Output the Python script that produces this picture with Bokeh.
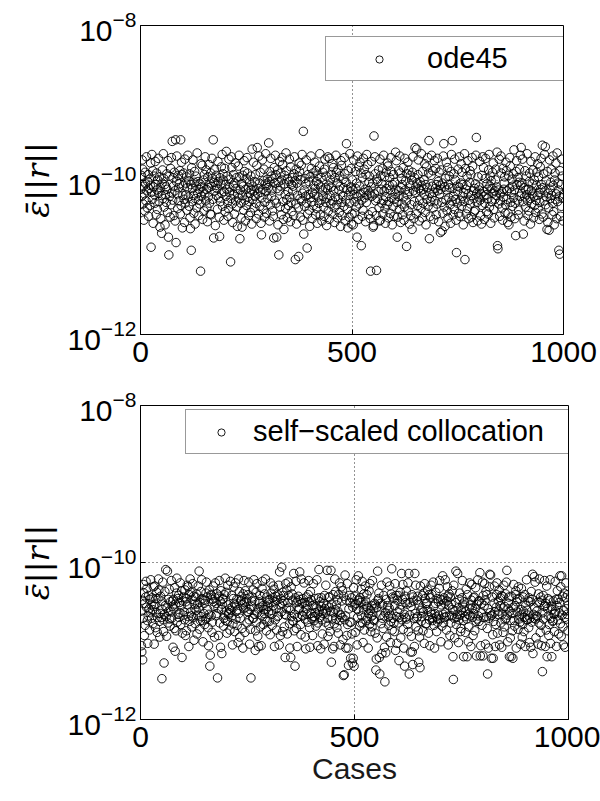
import numpy as np
from bokeh.plotting import figure
from bokeh.models import FixedTicker, Legend, LegendItem, ColumnDataSource, Range1d
from bokeh.layouts import column
from bokeh.embed import file_html
from bokeh.resources import INLINE

# log10 of the mean residual norm for each of the 1000 test cases (ode45)
ode45_log10 = [
    -10.12, -9.94, -10.21, -9.74, -9.86, -10.31, -10.08, -10.52, -10.18, -10.40,
    -9.90, -10.05, -10.27, -9.70, -10.14, -10.36, -10.02, -9.93, -10.47, -10.11,
    -9.99, -10.33, -10.07, -9.78, -10.87, -10.16, -9.67, -10.25, -9.88, -10.56,
    -10.09, -9.95, -10.19, -10.30, -9.76, -10.06, -10.45, -9.91, -10.13, -10.38,
    -10.00, -9.72, -10.17, -10.28, -9.96, -10.61, -10.10, -10.50, -10.20, -10.69,
    -10.04, -9.87, -10.24, -9.66, -9.98, -10.35, -10.06, -10.58, -10.19, -10.09,
    -10.29, -9.92, -10.12, -10.42, -9.75, -10.74, -10.97, -9.95, -10.21, -10.48,
    -9.85, -10.32, -9.71, -10.17, -9.50, -10.26, -9.97, -10.08, -10.46, -9.90,
    -10.14, -10.53, -9.48, -10.81, -10.02, -9.69, -10.18, -10.37, -9.94, -10.10,
    -10.27, -10.05, -9.88, -10.44, -9.48, -10.33, -9.77, -9.93, -10.62, -10.20,
    -10.07, -9.91, -10.25, -10.55, -9.73, -10.30, -10.04, -10.19, -9.96, -10.39,
    -10.10, -9.68, -10.22, -10.01, -10.34, -9.92, -10.49, -10.63, -10.06, -10.91,
    -9.84, -10.28, -10.11, -9.74, -10.20, -10.43, -10.03, -9.89, -10.57, -10.24,
    -9.95, -10.08, -10.36, -9.65, -10.17, -10.02, -10.26, -10.46, -10.12, -10.31,
    -10.05, -11.18, -9.79, -10.21, -10.09, -9.81, -10.51, -10.15, -10.00, -10.40,
    -9.93, -10.18, -9.70, -10.27, -9.87, -10.12, -10.35, -10.54, -9.96, -10.22,
    -10.10, -9.80, -10.30, -10.04, -10.44, -9.91, -10.45, -10.08, -9.72, -9.98,
    -10.25, -9.48, -10.75, -10.03, -9.86, -10.14, -10.59, -10.07, -9.94, -10.20,
    -10.11, -10.38, -9.76, -10.02, -10.23, -10.48, -10.73, -9.97, -10.28, -10.05,
    -9.83, -10.17, -9.67, -10.34, -9.92, -10.00, -10.52, -10.15, -9.85, -10.41,
    -10.06, -10.21, -9.63, -10.12, -9.95, -10.29, -10.47, -10.37, -9.73, -10.16,
    -10.09, -9.99, -11.06, -10.24, -9.70, -9.84, -10.31, -10.55, -10.07, -9.93,
    -10.19, -10.44, -10.04, -9.78, -10.27, -10.11, -9.97, -10.35, -10.60, -10.18,
    -9.82, -10.23, -9.68, -9.96, -10.76, -10.13, -10.30, -10.49, -10.05, -10.61,
    -10.20, -9.94, -10.08, -10.39, -9.75, -9.89, -10.26, -10.53, -10.12, -9.98,
    -10.33, -9.71, -9.91, -10.22, -10.10, -10.46, -10.28, -10.03, -10.17, -10.42,
    -9.95, -10.13, -10.57, -9.60, -10.25, -10.08, -9.77, -10.36, -10.14, -10.02,
    -10.21, -9.93, -10.30, -10.50, -9.81, -9.58, -10.18, -10.11, -10.44, -9.69,
    -10.04, -10.34, -9.90, -10.16, -10.56, -10.71, -10.23, -9.74, -10.12, -10.38,
    -10.01, -9.86, -10.48, -10.29, -10.05, -9.66, -10.15, -10.43, -10.07, -9.99,
    -10.24, -10.10, -9.52, -10.02, -10.53, -9.89, -10.32, -9.72, -9.95, -10.21,
    -10.13, -10.40, -9.98, -10.47, -10.75, -9.84, -10.26, -10.04, -9.68, -9.93,
    -10.30, -10.74, -10.11, -9.87, -10.58, -10.03, -10.97, -10.14, -9.76, -10.35,
    -10.08, -9.91, -10.45, -10.00, -9.71, -9.80, -10.28, -10.51, -10.64, -10.05,
    -9.94, -10.19, -10.37, -9.65, -9.88, -10.25, -10.49, -9.99, -10.15, -10.33,
    -10.02, -9.73, -10.22, -10.54, -9.83, -10.29, -10.06, -10.41, -9.97, -10.14,
    -10.08, -10.46, -9.92, -9.70, -10.01, -11.03, -10.31, -9.86, -10.57, -10.04,
    -10.20, -9.95, -10.36, -10.99, -9.78, -9.89, -10.24, -10.48, -10.00, -9.81,
    -10.27, -9.67, -10.17, -10.52, -9.37, -10.70, -10.13, -10.34, -9.98, -10.21,
    -10.05, -9.74, -10.30, -10.88, -10.44, -9.93, -10.19, -10.02, -10.39, -10.60,
    -9.96, -10.23, -9.69, -9.85, -10.28, -10.50, -10.16, -9.91, -10.33, -10.07,
    -10.19, -9.77, -10.11, -10.45, -9.88, -10.02, -10.37, -10.56, -9.94, -10.22,
    -10.06, -10.30, -9.82, -9.66, -10.45, -10.09, -9.97, -10.26, -10.53, -10.13,
    -9.90, -10.21, -10.35, -10.47, -9.86, -9.73, -10.10, -10.29, -9.95, -10.59,
    -10.24, -10.12, -9.70, -10.40, -10.07, -10.51, -9.72, -10.20, -10.00, -10.31,
    -10.09, -9.93, -9.79, -10.27, -10.44, -9.84, -10.14, -10.36, -10.55, -9.97,
    -10.22, -9.68, -9.90, -10.32, -10.04, -10.49, -9.87, -10.25, -10.13, -10.42,
    -9.95, -10.08, -10.60, -9.75, -9.81, -10.29, -10.46, -10.21, -9.99, -10.10,
    -10.34, -9.71, -9.92, -10.53, -10.26, -10.03, -9.53, -10.12, -10.38, -10.62,
    -9.88, -10.20, -10.48, -10.30, -9.66, -10.15, -10.09, -9.85, -10.57, -10.44,
    -10.00, -10.13, -10.58, -9.74, -10.19, -10.43, -10.28, -9.89, -10.11, -10.35,
    -10.04, -10.74, -9.69, -10.22, -10.51, -9.83, -10.31, -10.08, -9.77, -10.18,
    -9.91, -10.85, -10.26, -10.47, -9.97, -10.39, -9.72, -10.16, -9.86, -10.23,
    -10.12, -10.54, -9.93, -10.29, -9.67, -10.20, -9.80, -10.14, -10.45, -10.03,
    -9.95, -10.17, -10.50, -11.18, -10.09, -9.76, -10.21, -10.41, -10.04, -10.61,
    -10.59, -9.43, -10.18, -9.70, -9.92, -10.27, -10.46, -11.17, -9.99, -10.24,
    -10.02, -10.15, -9.87, -10.36, -10.53, -9.73, -10.52, -9.94, -10.12, -10.30,
    -10.05, -9.85, -10.44, -10.26, -9.68, -10.14, -9.96, -10.37, -10.56, -10.22,
    -9.90, -10.11, -10.32, -9.78, -9.82, -10.49, -10.28, -10.07, -9.97, -10.43,
    -10.13, -9.71, -9.89, -10.23, -10.58, -10.06, -10.34, -9.93, -10.47, -10.25,
    -10.03, -10.18, -9.64, -10.12, -9.75, -10.29, -10.74, -10.48, -10.21, -9.88,
    -10.14, -10.38, -9.69, -9.91, -10.55, -10.10, -9.98, -10.31, -10.06, -10.45,
    -9.84, -10.22, -10.52, -10.35, -9.72, -10.13, -10.01, -10.27, -10.86, -9.92,
    -10.19, -9.77, -10.40, -9.87, -10.15, -10.57, -10.07, -9.94, -10.46, -10.32,
    -10.00, -10.64, -9.90, -9.70, -10.14, -10.50, -10.28, -9.97, -9.58, -10.16,
    -10.09, -10.44, -9.60, -10.04, -10.33, -9.93, -9.74, -10.11, -10.53, -10.26,
    -10.02, -10.14, -10.37, -9.66, -10.07, -10.49, -9.89, -10.30, -10.12, -10.00,
    -10.19, -9.79, -10.42, -10.06, -10.58, -9.83, -10.25, -10.10, -9.71, -10.34,
    -9.91, -9.49, -10.76, -10.17, -10.47, -10.28, -9.94, -9.68, -10.22, -10.08,
    -9.88, -10.36, -10.51, -10.16, -9.75, -10.27, -10.11, -9.85, -10.45, -10.06,
    -10.31, -9.72, -10.14, -10.02, -10.54, -9.90, -10.18, -10.07, -10.68, -10.12,
    -9.87, -10.29, -10.66, -10.04, -10.43, -9.69, -9.53, -10.35, -10.09, -10.60,
    -9.98, -10.26, -9.77, -10.13, -10.40, -9.84, -10.49, -10.06, -10.23, -9.95,
    -10.10, -10.32, -10.56, -9.89, -9.67, -10.27, -9.49, -10.11, -10.45, -10.21,
    -9.92, -10.38, -9.73, -10.00, -10.25, -10.52, -10.94, -10.08, -10.30, -10.15,
    -9.86, -10.43, -10.09, -9.70, -10.47, -10.27, -10.04, -9.79, -10.34, -9.90,
    -10.21, -10.06, -10.58, -10.16, -10.28, -9.66, -11.03, -9.85, -10.12, -10.44,
    -10.07, -9.95, -10.37, -9.75, -10.18, -10.50, -10.26, -10.03, -9.88, -10.31,
    -9.93, -10.48, -10.20, -9.71, -9.82, -10.55, -10.14, -10.24, -10.41, -10.11,
    -10.39, -10.05, -9.68, -9.45, -10.17, -10.29, -10.53, -9.96, -10.22, -10.09,
    -10.13, -9.76, -10.26, -10.46, -10.18, -10.57, -9.94, -10.33, -9.70, -10.15,
    -9.84, -10.21, -10.51, -10.30, -9.98, -9.72, -10.19, -10.41, -10.05, -10.12,
    -10.24, -10.44, -9.87, -9.67, -10.35, -10.08, -9.95, -10.56, -10.01, -10.28,
    -10.11, -9.90, -10.17, -9.78, -10.38, -10.49, -10.14, -10.25, -10.00, -9.86,
    -10.20, -10.09, -9.64, -10.85, -10.89, -10.13, -10.31, -9.73, -10.47, -10.18,
    -10.27, -9.69, -9.91, -10.15, -10.36, -10.52, -9.85, -10.22, -10.12, -10.04,
    -9.96, -10.43, -10.32, -9.77, -9.88, -10.25, -10.14, -10.55, -10.43, -9.94,
    -10.58, -10.11, -9.71, -9.82, -10.29, -10.48, -10.16, -9.99, -10.34, -10.08,
    -9.92, -10.23, -9.61, -10.13, -10.50, -10.30, -10.72, -9.89, -9.75, -10.06,
    -10.26, -9.97, -10.45, -10.39, -10.03, -9.86, -10.21, -9.68, -10.07, -9.58,
    -10.17, -10.04, -9.73, -10.28, -10.70, -10.10, -10.53, -10.22, -9.88, -10.35,
    -10.13, -9.95, -10.19, -9.66, -10.27, -10.46, -10.12, -10.40, -10.02, -9.91,
    -10.24, -10.57, -9.76, -10.14, -10.31, -10.05, -10.18, -9.87, -10.49, -10.21,
    -10.00, -10.33, -9.70, -10.42, -10.26, -10.07, -9.90, -10.20, -9.79, -10.37,
    -9.96, -10.16, -10.51, -10.29, -9.83, -10.12, -9.72, -10.06, -10.44, -9.55,
    -10.10, -10.48, -9.92, -10.27, -9.67, -10.14, -9.57, -10.32, -10.01, -10.22,
    -10.64, -9.89, -10.55, -10.17, -10.36, -10.65, -9.74, -10.12, -10.24, -10.03,
    -9.86, -10.20, -10.45, -10.30, -9.69, -10.07, -10.41, -10.58, -10.00, -9.91,
    -10.25, -9.78, -10.18, -10.50, -9.65, -10.28, -10.04, -10.13, -10.91, -10.21,
    -10.96, -9.88, -10.47, -10.06, -10.34, -9.73, -9.95, -10.23, -10.53, -10.18,
]

# log10 of the mean residual norm for each case (self-scaled collocation)
collocation_log10 = [
    -10.62, -11.06, -11.14, -10.48, -11.24, -10.71, -10.28, -10.39, -10.93, -10.52,
    -10.80, -10.44, -10.24, -10.57, -10.33, -10.74, -11.03, -10.68, -10.42, -10.59,
    -10.86, -10.47, -10.63, -10.22, -10.54, -10.71, -10.45, -10.60, -10.78, -10.31,
    -10.56, -11.04, -10.30, -10.53, -10.83, -10.46, -10.64, -10.38, -10.89, -10.70,
    -10.46, -10.21, -10.35, -10.75, -10.95, -10.65, -10.43, -10.70, -10.49, -11.48,
    -10.60, -10.25, -10.73, -10.88, -11.28, -10.66, -10.37, -10.55, -10.09, -10.69,
    -10.94, -10.58, -10.11, -10.77, -10.47, -10.62, -10.34, -10.72, -10.81, -10.50,
    -10.63, -10.23, -10.71, -10.56, -10.49, -11.08, -10.47, -10.59, -10.84, -10.32,
    -11.13, -10.53, -10.87, -10.39, -10.20, -10.76, -10.46, -10.66, -10.42, -10.70,
    -10.51, -10.64, -10.26, -10.79, -10.55, -10.36, -11.21, -10.90, -10.49, -10.67,
    -10.44, -10.63, -10.73, -10.35, -10.93, -10.50, -10.87, -10.46, -10.29, -10.54,
    -10.31, -10.69, -11.07, -10.41, -10.75, -10.21, -10.63, -10.38, -10.68, -10.82,
    -10.47, -10.27, -10.70, -10.43, -10.99, -10.53, -10.59, -10.78, -10.44, -10.61,
    -10.40, -10.91, -10.53, -10.67, -10.30, -10.58, -10.11, -10.85, -10.51, -10.74,
    -10.37, -10.69, -10.22, -10.46, -10.74, -11.01, -10.48, -10.65, -10.52, -10.79,
    -10.48, -10.72, -10.39, -10.25, -10.71, -10.44, -10.60, -10.83, -11.06, -10.66,
    -10.35, -11.32, -11.18, -10.41, -10.68, -10.42, -10.89, -10.76, -10.47, -10.30,
    -10.50, -10.56, -10.95, -10.45, -10.26, -10.68, -10.52, -10.65, -10.40, -11.47,
    -10.58, -10.93, -10.43, -10.23, -10.77, -10.49, -11.08, -10.36, -10.60, -11.16,
    -10.53, -10.47, -10.46, -10.81, -10.71, -10.41, -10.67, -10.20, -10.74, -10.38,
    -10.62, -10.90, -10.75, -10.29, -10.54, -10.66, -10.64, -10.59, -10.86, -10.24,
    -10.61, -10.70, -10.42, -10.57, -11.05, -10.78, -10.46, -10.31, -10.52, -10.88,
    -10.54, -10.26, -10.72, -10.62, -10.47, -10.80, -10.60, -11.02, -10.21, -10.65,
    -10.37, -10.95, -10.71, -10.49, -10.48, -10.43, -10.84, -10.53, -11.09, -10.40,
    -10.59, -10.23, -10.51, -10.89, -10.36, -10.57, -10.50, -10.46, -10.77, -10.63,
    -10.41, -10.63, -10.25, -10.73, -11.04, -10.60, -10.85, -11.47, -10.56, -10.49,
    -10.44, -10.71, -10.35, -10.71, -10.22, -10.66, -10.49, -11.12, -10.87, -10.38,
    -10.76, -10.27, -10.64, -10.94, -10.59, -11.07, -10.50, -10.52, -10.42, -10.82,
    -10.57, -11.06, -10.67, -10.33, -10.24, -10.55, -10.79, -10.60, -10.65, -10.40,
    -10.72, -10.21, -10.60, -10.87, -10.44, -10.75, -10.56, -10.48, -10.63, -10.51,
    -10.75, -10.47, -10.92, -10.26, -10.39, -10.61, -10.66, -10.80, -10.45, -10.30,
    -10.55, -10.34, -11.07, -10.50, -10.73, -10.43, -10.59, -10.86, -10.48, -10.69,
    -10.41, -10.68, -10.29, -11.05, -10.12, -10.54, -10.93, -10.46, -10.63, -10.06,
    -10.52, -10.88, -10.38, -10.42, -10.49, -10.82, -10.66, -11.21, -10.27, -10.67,
    -10.59, -10.35, -10.91, -10.51, -10.25, -10.42, -10.58, -10.78, -11.09, -10.61,
    -11.21, -10.31, -10.69, -10.40, -10.74, -10.48, -10.75, -10.14, -10.87, -10.66,
    -11.32, -10.45, -10.24, -10.84, -10.51, -11.07, -10.70, -10.49, -10.43, -10.60,
    -10.58, -10.12, -10.47, -10.79, -10.92, -10.21, -10.67, -10.52, -10.68, -10.46,
    -10.63, -10.26, -10.51, -10.72, -10.95, -11.10, -10.59, -10.44, -10.66, -10.54,
    -10.76, -10.41, -10.23, -10.50, -10.83, -11.08, -10.37, -10.65, -10.48, -10.71,
    -10.55, -10.93, -10.69, -10.27, -10.54, -10.74, -10.69, -10.64, -10.46, -10.81,
    -10.58, -10.22, -10.66, -11.06, -10.77, -10.45, -10.09, -10.62, -10.50, -10.70,
    -11.10, -10.56, -10.45, -10.73, -10.91, -10.61, -10.65, -10.52, -11.04, -10.42,
    -10.59, -10.76, -10.29, -10.63, -10.55, -10.10, -10.71, -10.94, -10.44, -10.80,
    -10.57, -10.44, -10.88, -10.62, -10.10, -11.27, -10.53, -10.72, -11.10, -10.41,
    -10.64, -11.07, -10.78, -10.21, -10.60, -10.37, -10.72, -10.54, -10.83, -10.48,
    -10.62, -10.90, -10.41, -10.74, -10.26, -10.66, -11.05, -10.67, -10.31, -10.49,
    -10.70, -10.36, -10.98, -11.44, -10.43, -11.43, -10.73, -10.16, -10.68, -11.09,
    -10.48, -10.93, -10.27, -10.79, -11.09, -11.31, -10.59, -10.42, -10.76, -10.51,
    -11.22, -10.76, -10.45, -10.91, -11.28, -10.57, -11.22, -10.32, -11.32, -10.54,
    -10.43, -10.89, -10.52, -10.22, -10.59, -11.05, -10.70, -10.48, -10.17, -10.62,
    -10.48, -10.81, -10.45, -10.77, -10.51, -10.34, -10.68, -10.24, -10.77, -11.02,
    -10.60, -10.40, -10.86, -10.53, -10.30, -10.49, -10.74, -10.56, -10.41, -10.71,
    -10.58, -11.09, -10.65, -10.36, -10.79, -10.27, -10.61, -10.88, -10.69, -10.55,
    -10.82, -10.23, -10.67, -10.73, -10.59, -10.74, -10.52, -10.90, -10.54, -11.37,
    -11.23, -10.57, -10.96, -10.11, -10.48, -10.46, -10.39, -11.21, -11.42, -10.67,
    -10.52, -10.78, -10.29, -11.16, -10.71, -10.54, -10.84, -10.42, -10.68, -11.08,
    -11.52, -10.64, -11.15, -10.47, -10.95, -10.25, -10.55, -10.61, -10.69, -10.80,
    -10.58, -10.30, -10.67, -11.02, -10.75, -10.40, -10.08, -10.86, -10.44, -10.71,
    -10.46, -10.77, -10.88, -10.55, -10.27, -11.12, -10.42, -10.69, -11.03, -10.48,
    -10.63, -10.42, -10.77, -11.25, -10.70, -10.60, -10.38, -10.96, -10.54, -10.14,
    -10.73, -10.47, -10.28, -10.85, -11.09, -10.66, -11.32, -10.43, -10.51, -10.70,
    -10.36, -10.72, -10.53, -10.79, -10.26, -10.88, -10.14, -11.42, -10.67, -10.51,
    -11.14, -10.56, -10.94, -10.41, -11.14, -11.30, -10.44, -10.49, -10.71, -11.07,
    -10.14, -10.65, -10.29, -10.82, -10.71, -10.48, -10.69, -10.43, -10.87, -11.27,
    -10.54, -10.95, -11.34, -10.30, -10.61, -10.75, -10.69, -10.58, -10.42, -10.87,
    -10.63, -10.39, -11.03, -10.27, -10.46, -10.78, -10.52, -10.78, -10.52, -10.60,
    -10.35, -10.68, -10.90, -10.41, -10.73, -11.06, -10.45, -10.63, -10.29, -10.66,
    -10.41, -10.74, -10.71, -10.25, -10.56, -10.80, -11.09, -10.65, -10.52, -10.38,
    -10.69, -10.88, -10.46, -10.76, -10.72, -10.50, -10.67, -10.33, -10.23, -10.72,
    -10.47, -11.01, -10.54, -10.81, -10.48, -10.17, -10.66, -10.77, -10.45, -10.70,
    -10.52, -10.22, -10.64, -10.69, -10.86, -10.49, -10.31, -10.43, -11.05, -10.55,
    -10.40, -10.68, -10.93, -10.44, -10.77, -10.53, -10.68, -10.36, -10.60, -11.20,
    -11.49, -10.29, -10.71, -10.96, -10.62, -10.51, -10.11, -10.79, -10.70, -10.66,
    -10.14, -10.58, -11.02, -10.73, -10.47, -10.39, -10.67, -10.88, -10.84, -10.61,
    -10.45, -10.23, -10.53, -10.74, -11.20, -10.57, -10.50, -10.69, -10.89, -10.62,
    -10.34, -10.72, -11.20, -10.41, -10.66, -11.01, -10.82, -10.59, -10.26, -10.68,
    -10.54, -11.07, -10.48, -10.28, -10.58, -10.70, -10.93, -10.45, -10.65, -10.44,
    -10.87, -10.59, -10.32, -10.75, -11.19, -10.53, -10.72, -10.22, -10.68, -10.49,
    -10.75, -10.49, -10.13, -11.19, -11.06, -10.64, -10.52, -10.80, -10.25, -11.19,
    -10.42, -10.70, -10.55, -10.27, -10.48, -11.04, -10.37, -10.69, -10.41, -10.84,
    -11.42, -10.59, -11.09, -10.71, -10.31, -10.15, -10.64, -10.16, -10.68, -11.22,
    -10.67, -10.44, -10.92, -11.22, -10.75, -10.52, -10.30, -10.63, -11.07, -10.79,
    -10.57, -10.41, -10.26, -10.90, -10.66, -10.49, -10.62, -10.35, -11.05, -10.55,
    -10.45, -10.77, -10.42, -11.08, -10.66, -10.43, -10.89, -10.58, -10.29, -10.82,
    -10.56, -10.73, -10.40, -10.71, -10.25, -10.10, -10.67, -11.01, -10.59, -10.52,
    -10.44, -11.20, -10.62, -10.96, -10.74, -11.20, -10.43, -10.65, -10.87, -11.22,
    -10.57, -10.28, -10.74, -10.81, -10.55, -10.41, -10.36, -11.09, -10.50, -10.63,
    -10.47, -10.85, -10.31, -10.72, -10.68, -10.46, -10.76, -11.04, -10.60, -10.33,
    -10.66, -10.95, -10.79, -10.44, -10.62, -10.88, -10.70, -10.41, -11.07, -10.55,
    -10.73, -10.22, -10.61, -10.73, -10.67, -10.49, -10.83, -10.45, -11.02, -10.71,
    -10.50, -11.08, -10.37, -10.76, -10.47, -10.15, -11.16, -10.66, -10.71, -10.18,
    -10.58, -10.25, -10.72, -10.96, -10.68, -10.62, -10.51, -10.69, -11.04, -10.40,
    -10.77, -10.21, -10.51, -10.89, -10.44, -10.80, -11.06, -10.48, -11.39, -10.64,
    -10.42, -10.72, -10.56, -10.23, -10.55, -11.07, -10.52, -10.86, -10.30, -11.20,
    -10.59, -10.46, -10.68, -10.93, -10.79, -10.48, -10.22, -11.03, -10.71, -10.56,
    -11.20, -10.60, -10.75, -10.74, -10.49, -10.66, -10.88, -10.65, -10.24, -10.62,
    -10.47, -11.07, -10.55, -10.36, -10.73, -10.47, -10.91, -10.64, -10.51, -10.17,
    -10.78, -10.31, -10.94, -10.17, -10.67, -10.43, -10.82, -11.05, -10.61, -10.39,
    -10.70, -11.08, -10.45, -10.26, -10.59, -10.72, -10.66, -10.41, -10.87, -10.54,
]

x_ticks = [0, 500, 1000]
y_ticks = [1e-12, 1e-10, 1e-8]
grid_x = [500]
grid_y = [1e-10]

FONT = "Liberation Sans"


def residual_panel(log_vals, name, frame_w, frame_h, borders, legend_xy,
                   glyph_w, standoff, label_w, xlabel=""):
    left, right, top, bottom = borders
    cases = np.arange(1, len(log_vals) + 1)
    src = ColumnDataSource(dict(case=cases, resid=10.0 ** np.asarray(log_vals)))

    p = figure(frame_width=frame_w, frame_height=frame_h,
               x_range=Range1d(0, 1000), y_range=Range1d(1e-12, 1e-8),
               y_axis_type="log", output_backend="svg", toolbar_location=None,
               min_border_left=left, min_border_right=right,
               min_border_top=top, min_border_bottom=bottom,
               background_fill_color="white", border_fill_color="white")

    r = p.scatter("case", "resid", source=src, marker="circle", size=8.5,
                  fill_color=None, line_color="black", line_width=0.9)

    p.outline_line_color = "black"
    p.outline_line_width = 1

    for ax in (p.xaxis[0], p.yaxis[0]):
        ax.axis_line_color = "black"
        ax.major_tick_line_color = "black"
        ax.major_tick_in = 5
        ax.major_tick_out = 0
        ax.minor_tick_line_color = None
        ax.major_label_text_font = FONT
        ax.major_label_text_font_size = "30px"
        ax.major_label_text_color = "black"

    p.xaxis.ticker = FixedTicker(ticks=x_ticks)
    p.yaxis.ticker = FixedTicker(ticks=y_ticks, minor_ticks=[])
    p.xaxis.major_label_standoff = 7
    p.yaxis.major_label_standoff = 4

    p.yaxis.axis_label = "ε̄||r||"
    p.yaxis.axis_label_text_font = "DejaVu Serif"
    p.yaxis.axis_label_text_font_style = "italic"
    p.yaxis.axis_label_text_font_size = "32px"
    p.yaxis.axis_label_text_color = "black"
    p.yaxis.axis_label_standoff = 8

    if xlabel:
        p.xaxis.axis_label = xlabel
        p.xaxis.axis_label_text_font = FONT
        p.xaxis.axis_label_text_font_style = "normal"
        p.xaxis.axis_label_text_font_size = "30px"
        p.xaxis.axis_label_text_color = "#1a1a1a"
        p.xaxis.axis_label_standoff = 2

    p.xgrid.ticker = FixedTicker(ticks=grid_x)
    p.ygrid.ticker = FixedTicker(ticks=grid_y)
    for g in (p.xgrid[0], p.ygrid[0]):
        g.grid_line_color = "black"
        g.grid_line_width = 1
        g.grid_line_dash = "1 3"
        g.grid_line_alpha = 0.85

    legend = Legend(items=[LegendItem(label=name, renderers=[r])],
                    location=legend_xy, orientation="vertical",
                    padding=5, margin=0, spacing=0,
                    glyph_width=glyph_w, glyph_height=18,
                    label_standoff=standoff, label_width=label_w, label_height=31,
                    label_text_font=FONT, label_text_font_size="29px",
                    label_text_color="black",
                    border_line_color="#333333", border_line_width=1,
                    background_fill_color="white", background_fill_alpha=1)
    p.add_layout(legend)
    return p


top = residual_panel(ode45_log10, "ode45", 423, 309, (140, 37, 25, 44),
                     (185, 253), 96, -3, 138)
bottom = residual_panel(collocation_log10, "self\u2212scaled collocation", 428, 314,
                        (138, 34, 27, 82), (45, 265), 60, 2, 310, xlabel="Cases")

layout = column(top, bottom, spacing=0)
open("out.html", "w").write(file_html(layout, INLINE))
